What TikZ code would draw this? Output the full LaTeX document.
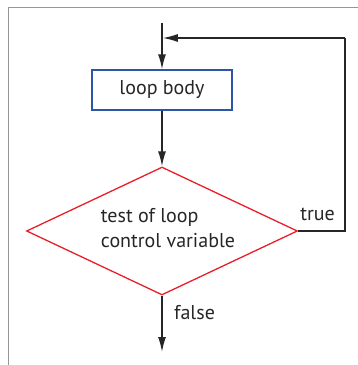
\documentclass[tikz,border=0pt]{standalone}
\usepackage{fontspec}
\setmainfont{PT Sans}
\usetikzlibrary{positioning,arrows.meta,shapes.geometric}
\definecolor{boxblue}{RGB}{45,85,165}
\definecolor{testred}{RGB}{232,30,40}
\definecolor{framegray}{RGB}{150,150,150}
\tikzset{
  flowarrow/.style={-{Latex[length=15pt,width=8pt]}, line width=1.5pt, black!85},
  flowline/.style={line width=1.5pt, black!85},
  bodybox/.style={draw=boxblue, line width=1.4pt, minimum width=140pt, minimum height=40pt, align=center},
  testbox/.style={draw=testred, line width=1.3pt, diamond, aspect=2.1, minimum width=271pt, minimum height=128pt, inner sep=0pt, align=left},
  relabel/.style={inner sep=1pt}
}
\begin{document}
\begin{tikzpicture}[x=1pt, y=-1pt, every node/.style={font=\fontsize{20}{25}\selectfont, text=black!85}]
  \useasboundingbox (0,0) rectangle (358,365);
  % frame
  \draw[framegray, line width=0.8pt] (358,7) -- (8,7) -- (8,365);
  \node[bodybox] (body) at (162,90) {loop body};
  \node[testbox] (test) at (162,231) {};
  \node[align=left] (testtext) at (168,228) {test of loop\\control variable};
  \coordinate (start) at (162,23);
  \coordinate (join) at (162,38);
  \coordinate (corner1) at (345,231);
  \coordinate (corner2) at (345,38);
  \coordinate (exit) at (162,352);
  \draw[flowarrow] (start) -- (body.north);
  \draw[flowarrow] (body.south) -- (test.north);
  \draw[flowline] (test.east) -- (corner1) -- (corner2);
  \draw[flowarrow] (corner2) -- ([xshift=0.8pt]join);
  \draw[flowarrow] (test.south) -- (exit);
  \node[relabel, anchor=base east] (truelbl) at (336,220) {true};
  \node[relabel, anchor=base west] (falselbl) at (173,319) {false};
\end{tikzpicture}
\end{document}
